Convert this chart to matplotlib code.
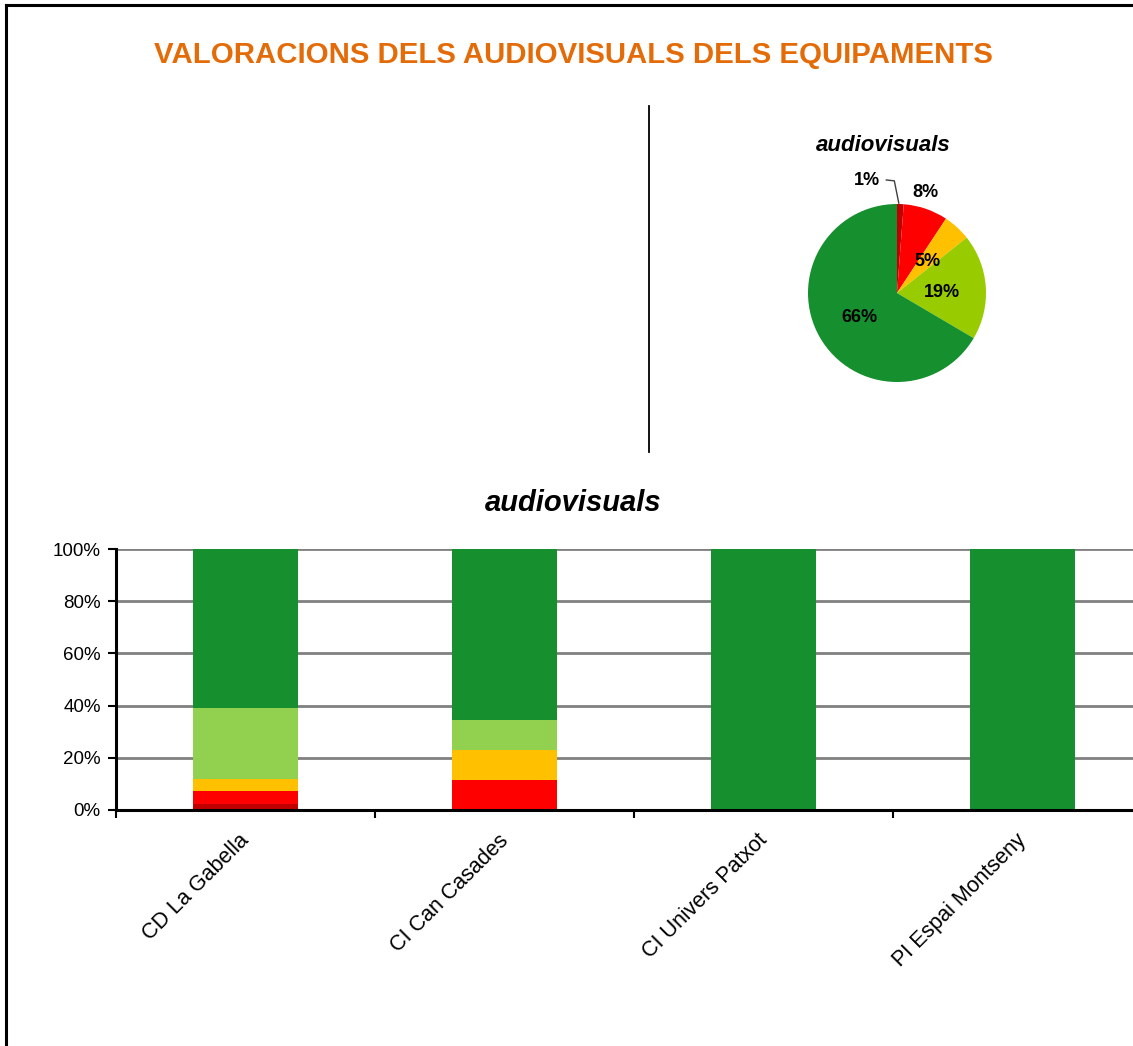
import numpy as np
import matplotlib
matplotlib.use("Agg")
import matplotlib.pyplot as plt
import matplotlib.transforms as mtransforms
from matplotlib.lines import Line2D

plt.rcParams["font.family"] = ["Liberation Sans", "DejaVu Sans"]

TITLE = "VALORACIONS DELS AUDIOVISUALS DELS EQUIPAMENTS"
CHART_TITLE = "audiovisuals"

# pie: global share per rating (top, clockwise)
pie_values = [1.2, 8, 5, 19, 66]
pie_labels = ["1%", "8%", "5%", "19%", "66%"]
pie_colors = ["#C00000", "#FF0000", "#FFC000", "#99CC00", "#16902E"]

# stacked bars per equipment (percent)
centres = ["CD La Gabella", "CI Can Casades", "CI Univers Patxot", "PI Espai Montseny"]
very_bad = [2.3, 0, 0, 0]
bad = [5.0, 11.5, 0, 0]
regular = [4.6, 11.5, 0, 0]
good = [27.1, 11.5, 0, 0]
very_good = [61.0, 65.5, 100, 100]
bar_colors = ["#C00000", "#FF0000", "#FFC000", "#92D050", "#16902E"]

W, H = 1133, 1046
fig = plt.figure(figsize=(W / 100, H / 100), dpi=100)

# frame lines (left and top)
fig.add_artist(Line2D([6 / W, 6 / W], [0, 1 - 5 / H], color="black", lw=2.2))
fig.add_artist(Line2D([6 / W, 1], [1 - 5 / H, 1 - 5 / H], color="black", lw=2.2))
# separator line
fig.add_artist(Line2D([649 / W, 649 / W], [1 - 106 / H, 1 - 452 / H], color="black", lw=1.3))

fig.text(573 / W, 1 - 55 / H, TITLE, color="#E36C09", fontsize=21.2, fontweight="bold",
         ha="center", va="center")

# ---- pie ----
cx, cy, r = 897, 293, 89
ax_pie = fig.add_axes([(cx - r) / W, 1 - (cy + r) / H, 2 * r / W, 2 * r / H])
wedges, _ = ax_pie.pie(pie_values, colors=pie_colors, startangle=90, counterclock=False,
                       wedgeprops=dict(linewidth=0))
ax_pie.set_xlim(-1, 1)
ax_pie.set_ylim(-1, 1)
ax_pie.set_aspect("equal")
ax_pie.axis("off")

label_pos = [(1.31, 105), (1.17, 74), (0.49, 46), (0.51, 1), (0.5, 213)]
for lab, (dist, ang) in zip(pie_labels, label_pos):
    a = np.deg2rad(ang)
    ax_pie.text(dist * np.cos(a), dist * np.sin(a), lab, ha="center", va="center",
                fontsize=13, fontweight="bold", clip_on=False)
# leader line for 1%
ax_pie.add_line(Line2D([-0.12, -0.03, 0.02], [1.27, 1.26, 1.01], color="#404040", lw=1,
                       clip_on=False))
ax_pie.text(-0.15, 1.66, CHART_TITLE, ha="center", va="center", fontsize=16,
            fontweight="heavy", fontstyle="italic")

# ---- stacked bars ----
ax = fig.add_axes([116 / W, 1 - 810 / H, (1152 - 116) / W, 261 / H])
x = np.arange(len(centres))
bottom = np.zeros(len(centres))
for vals, col in zip([very_bad, bad, regular, good, very_good], bar_colors):
    ax.bar(x, vals, width=0.405, bottom=bottom, color=col, zorder=3, linewidth=0)
    bottom += np.array(vals)

ax.set_xlim(-0.5, len(centres) - 0.5)
ax.set_ylim(0, 100)
ax.set_yticks(np.arange(0, 101, 20))
ax.set_yticklabels([f"{v}%" for v in range(0, 101, 20)], fontsize=13.5)
ax.yaxis.grid(True, color="#808080", lw=2, zorder=0)
ax.set_xticks(x)
ax.set_xticklabels([])
# category labels, rotated, placed under each bar
shift = mtransforms.ScaledTranslation(-0.07, -0.20, fig.dpi_scale_trans)
for xi, name in zip(x, centres):
    ax.text(xi, 0, name, transform=ax.transData + shift, rotation=45, ha="right", va="top",
            rotation_mode="anchor", fontsize=15.5, clip_on=False)
ax.set_xticks(np.arange(-0.5, len(centres), 1), minor=True)
ax.tick_params(axis="x", which="major", length=0)
ax.tick_params(axis="x", which="minor", length=6, width=1.5, direction="out")
ax.tick_params(axis="y", length=6, width=1.5, direction="out", pad=5)
for side in ["top", "right"]:
    ax.spines[side].set_visible(False)
for side in ["left", "bottom"]:
    ax.spines[side].set_linewidth(2.2)
    ax.spines[side].set_zorder(4)

fig.text(573 / W, 1 - 503 / H, CHART_TITLE, ha="center", va="center", fontsize=21,
         fontweight="heavy", fontstyle="italic")

fig.savefig("out.png", dpi=100, facecolor="white")
